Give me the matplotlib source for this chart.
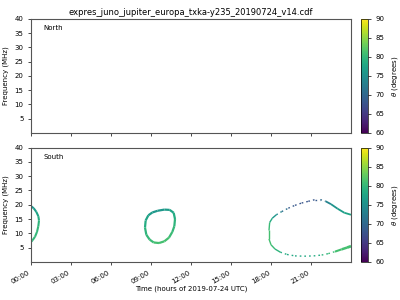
import numpy as np
import matplotlib
matplotlib.use("Agg")
import matplotlib.pyplot as plt
from matplotlib.collections import LineCollection
from matplotlib.colors import Normalize

title = "expres_juno_jupiter_europa_txka-y235_20190724_v14.cdf"
tick_hours = [0, 3, 6, 9, 12, 15, 18, 21]
tick_labels = ["00:00", "03:00", "06:00", "09:00", "12:00", "15:00", "18:00", "21:00"]

# South hemisphere emission curves: time (hours), frequency (MHz), theta (deg)
t_a = [0.0, 0.2, 0.4, 0.55, 0.6, 0.55, 0.45, 0.3, 0.12, 0.0]
f_a = [19.5, 18.8, 17.5, 16.0, 14.5, 12.5, 10.5, 8.8, 7.6, 7.0]
th_a = [75, 76, 77, 78, 79, 80, 80, 80, 80, 79]

t_b = [8.55, 8.6, 8.8, 9.1, 9.5, 10.0, 10.4, 10.7, 10.8, 10.75, 10.6, 10.35, 10.0, 9.6, 9.2, 8.9, 8.65, 8.55]
f_b = [12.0, 14.5, 16.3, 17.3, 17.9, 18.3, 18.2, 17.2, 15.0, 12.5, 10.5, 8.5, 7.2, 6.6, 6.8, 7.8, 9.5, 12.0]
th_b = [79, 78, 77, 76, 76, 76, 77, 78, 79, 80, 80, 81, 81, 81, 81, 80, 80, 79]

t_c_top = [17.85, 17.85, 17.9, 18.1, 18.4, 18.8, 19.3, 19.8, 20.3, 20.8, 21.3, 21.7, 22.1, 22.5, 23.0, 23.5, 24.0]
f_c_top = [8.0, 11.0, 13.8, 15.3, 16.5, 17.6, 18.8, 19.8, 20.6, 21.2, 21.8, 21.8, 21.2, 20.2, 18.6, 17.2, 16.5]
th_c_top = [81, 81, 80, 77, 75, 73, 69, 68, 68, 68, 68, 69, 72, 75, 76, 77, 78]

t_c_bot = [17.85, 18.0, 18.3, 18.7, 19.2, 19.8, 20.5, 21.2, 21.8, 22.3, 22.8, 23.3, 23.7, 24.0]
f_c_bot = [8.0, 6.0, 4.5, 3.4, 2.6, 2.1, 2.0, 2.1, 2.4, 2.9, 3.6, 4.4, 5.0, 5.5]
th_c_bot = [81, 81, 80, 79, 78, 78, 78, 78, 79, 80, 81, 81, 81, 81]

cmap = plt.get_cmap("viridis")
norm = Normalize(vmin=60, vmax=90)
plt.rcParams["font.size"] = 5

dotted = (0, (1.2, 2.2))


def add_curve(ax, t, f, th, lw, styles="solid"):
    pts = np.column_stack([t, f]).reshape(-1, 1, 2)
    segs = np.concatenate([pts[:-1], pts[1:]], axis=1)
    vals = (np.array(th[:-1]) + np.array(th[1:])) / 2.0
    lc = LineCollection(segs, cmap=cmap, norm=norm, linewidths=lw, linestyles=styles)
    lc.set_array(vals)
    ax.add_collection(lc)


fig = plt.figure(figsize=(4, 3), dpi=100)
ax_n = fig.add_axes([0.0775, 0.557, 0.8, 0.380])
ax_s = fig.add_axes([0.0775, 0.127, 0.8, 0.381])
cax_n = fig.add_axes([0.9025, 0.557, 0.0175, 0.380])
cax_s = fig.add_axes([0.9025, 0.127, 0.0175, 0.381])

add_curve(ax_s, t_a, f_a, th_a, 1.5)
add_curve(ax_s, t_b, f_b, th_b, 1.6)
top_styles = ["solid"] * 4 + [dotted] * 8 + ["solid"] * 4
bot_styles = ["solid"] * 3 + [dotted] * 7 + ["solid"] * 3
add_curve(ax_s, t_c_top, f_c_top, th_c_top, [1.0] * 12 + [1.3] * 4, top_styles)
add_curve(ax_s, t_c_bot, f_c_bot, th_c_bot, [1.0] * 10 + [1.5, 1.8, 2.0], bot_styles)

for ax, name in [(ax_n, "North"), (ax_s, "South")]:
    ax.set_xlim(0, 24)
    ax.set_ylim(0, 40)
    ax.set_yticks([5, 10, 15, 20, 25, 30, 35, 40])
    ax.set_xticks(tick_hours)
    ax.set_ylabel("Frequency (MHz)", fontsize=5)
    ax.text(0.04, 0.9, name, transform=ax.transAxes, fontsize=5)
    ax.tick_params(labelsize=5, length=2, width=0.5)
    for sp in ax.spines.values():
        sp.set_linewidth(0.8)
        sp.set_color("#555555")

ax_n.set_xticklabels([])
ax_s.set_xticklabels(tick_labels, rotation=30, ha="right")
ax_s.set_xlabel("Time (hours of 2019-07-24 UTC)", fontsize=5, labelpad=0.5)
ax_n.set_title(title, fontsize=6, pad=3)

sm = plt.cm.ScalarMappable(cmap=cmap, norm=norm)
for cax in (cax_n, cax_s):
    cb = fig.colorbar(sm, cax=cax)
    cb.set_ticks([60, 65, 70, 75, 80, 85, 90])
    cb.ax.tick_params(labelsize=5, length=2, width=0.5)
    cb.set_label(r"$\theta$ (degrees)", fontsize=5)
    cb.outline.set_linewidth(0.5)

fig.savefig("out.png", dpi=100)
